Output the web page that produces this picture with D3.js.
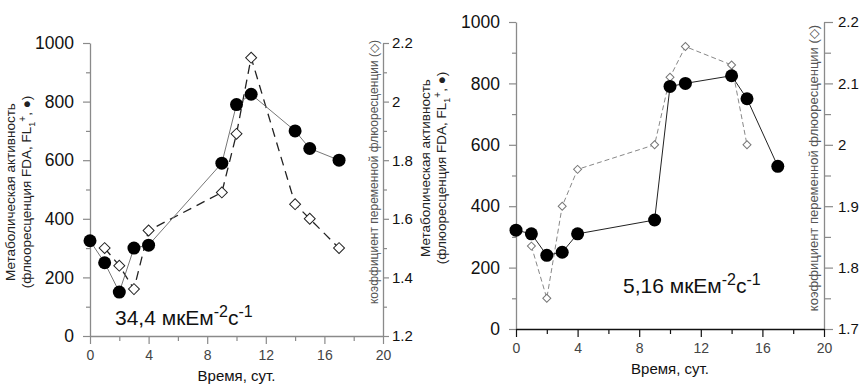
<!DOCTYPE html>
<html>
<head>
<meta charset="utf-8">
<script src="https://cdn.jsdelivr.net/npm/d3@7"></script>
<style>
  body { margin: 0; background: #fff; }
  svg { display: block; font-family: Arial, "Liberation Sans", sans-serif; }
</style>
</head>
<body>
<svg id="chart" width="862" height="385"></svg>
<script>
// ---- data ----
// left panel, 34,4 мкЕм-2с-1
const daysA = [0, 1, 2, 3, 4, 9, 10, 11, 14, 15, 17];
const activityA = [325, 250, 150, 300, 310, 590, 790, 825, 700, 640, 600];
const ratioDaysA = [1, 2, 3, 4, 9, 10, 11, 14, 15, 17];
const ratioA = [1.50, 1.44, 1.36, 1.56, 1.69, 1.89, 2.15, 1.65, 1.60, 1.50];

// right panel, 5,16 мкЕм-2с-1
const daysB = [0, 1, 2, 3, 4, 9, 10, 11, 14, 15, 17];
const activityB = [322, 310, 240, 250, 310, 355, 790, 800, 825, 750, 530];
const ratioDaysB = [1, 2, 3, 4, 9, 10, 11, 14, 15];
const ratioB = [1.835, 1.75, 1.90, 1.96, 2.0, 2.11, 2.16, 2.13, 2.0];

// ticks
const timeTicks = [0, 4, 8, 12, 16, 20];
const timeMinor = [2, 6, 10, 14, 18];
const activityTicks = [0, 200, 400, 600, 800, 1000];
const activityMinor = [100, 300, 500, 700, 900];
const ratioTicksA = [1.2, 1.4, 1.6, 1.8, 2.0, 2.2];
const ratioMinorA = [1.3, 1.5, 1.7, 1.9, 2.1];
const ratioTicksB = [1.7, 1.8, 1.9, 2.0, 2.1, 2.2];
const ratioMinorB = [1.75, 1.85, 1.95, 2.05, 2.15];

const svg = d3.select("svg#chart");
const fmt = d => String(+d.toFixed(2));

function styleAxis(sel, color, fontSize, textColor, family) {
    sel.attr("font-size", null).attr("font-family", null);
    sel.select(".domain").attr("stroke", color).attr("stroke-width", 1.3);
    sel.selectAll(".tick line").attr("stroke", color).attr("stroke-width", 1.2);
    sel.selectAll(".tick text")
       .attr("fill", textColor)
       .style("font-size", fontSize + "px")
       .style("font-family", family || "Arial, 'Liberation Sans', sans-serif");
}

function drawPanel(p) {
    const g = svg.append("g");
    const x = d3.scaleLinear().domain([0, 20]).range([p.left, p.right]);
    const yL = d3.scaleLinear().domain([0, 1000]).range([p.bottom, p.top]);
    const yR = d3.scaleLinear().domain(p.ratioDomain).range([p.bottom, p.top]);

    // minor ticks
    g.append("g").attr("transform", "translate(" + p.left + ",0)")
     .call(d3.axisLeft(yL).tickValues(activityMinor).tickSize(4).tickFormat(""))
     .call(s => { styleAxis(s, "#8a8a8a", 10, "#000"); s.select(".domain").remove(); });
    g.append("g").attr("transform", "translate(" + p.right + ",0)")
     .call(d3.axisRight(yR).tickValues(p.ratioMinor).tickSize(p.rTick - 2).tickFormat(""))
     .call(s => { styleAxis(s, "#8a8a8a", 10, "#000"); s.select(".domain").remove(); });
    g.append("g").attr("transform", "translate(0," + p.bottom + ")")
     .call(d3.axisBottom(x).tickValues(timeMinor).tickSize(5).tickFormat(""))
     .call(s => { styleAxis(s, p.xColor, 10, "#000"); s.select(".domain").remove(); });

    // main axes
    g.append("g").attr("transform", "translate(" + p.left + ",0)")
     .call(d3.axisLeft(yL).tickValues(activityTicks).tickSize(7).tickPadding(9)
           .tickSizeOuter(0).tickFormat(fmt))
     .call(s => styleAxis(s, "#8a8a8a", 17.5, "#111"));
    g.append("g").attr("transform", "translate(" + p.right + ",0)")
     .call(d3.axisRight(yR).tickValues(p.ratioTicks).tickSize(p.rTick).tickPadding(p.rPad)
           .tickSizeOuter(0).tickFormat(fmt))
     .call(s => styleAxis(s, "#8a8a8a", p.rFont, "#111"));
    g.append("g").attr("transform", "translate(0," + p.bottom + ")")
     .call(d3.axisBottom(x).tickValues(timeTicks).tickSize(8).tickPadding(6).tickSizeOuter(0))
     .call(s => styleAxis(s, p.xColor, 14, "#444",
                          "'Liberation Sans Narrow', 'Arial Narrow', Arial, sans-serif"));

    // series
    const actData = d3.zip(p.days, p.activity);
    const ratData = d3.zip(p.ratioDays, p.ratio);

    g.append("path").datum(ratData)
     .attr("d", d3.line().x(d => x(d[0])).y(d => yR(d[1])))
     .attr("fill", "none")
     .attr("stroke", p.dashColor)
     .attr("stroke-width", p.dashWidth)
     .attr("stroke-dasharray", p.dash);

    g.append("path").datum(actData)
     .attr("d", d3.line().x(d => x(d[0])).y(d => yL(d[1])))
     .attr("fill", "none")
     .attr("stroke", p.solidColor)
     .attr("stroke-width", 1);

    const diamond = d3.symbol(d3.symbolSquare, p.diamondSize);
    g.selectAll("path.diamond").data(ratData)
     .join("path")
     .attr("class", "diamond")
     .attr("d", diamond)
     .attr("transform", d => "translate(" + x(d[0]) + "," + yR(d[1]) + ") rotate(45)")
     .attr("fill", "#fff")
     .attr("stroke", p.diamondStroke)
     .attr("stroke-width", 1);

    g.selectAll("circle").data(actData)
     .join("circle")
     .attr("cx", d => x(d[0]))
     .attr("cy", d => yL(d[1]))
     .attr("r", 6.5)
     .attr("fill", "#000");

    // left axis title (two lines)
    const lt = g.append("text")
        .attr("transform", "translate(" + p.titleX + "," + p.titleY + ") rotate(-90)")
        .attr("text-anchor", "middle")
        .attr("fill", "#222")
        .style("font-size", "13.5px");
    lt.append("tspan").attr("x", 0).attr("y", 0).text("Метаболическая активность");
    lt.append("tspan").attr("x", 0).attr("y", 16).text("(флюоресценция FDA, FL");
    lt.append("tspan").attr("dy", 4).style("font-size", "9px").text("1");
    lt.append("tspan").attr("dy", -9).style("font-size", "10px").text("+");
    lt.append("tspan").attr("dy", 5).text(", ●)");

    // right axis title, inside the plot next to the right axis
    g.append("text")
     .attr("transform", "translate(" + p.rTitleX + "," + p.rTitleY + ") rotate(-90)")
     .attr("text-anchor", "middle")
     .attr("fill", "#555")
     .style("font-size", p.rTitleFont + "px")
     .text("коэффициент переменной флюоресценции (◇)");

    // x axis title
    g.append("text")
     .attr("x", (p.left + p.right) / 2)
     .attr("y", p.bottom + 45)
     .attr("text-anchor", "middle")
     .attr("fill", "#111")
     .style("font-size", "15px")
     .text("Время, сут.");

    // light level annotation
    const an = g.append("text")
        .attr("x", p.noteX).attr("y", p.noteY)
        .attr("fill", "#111")
        .style("font-size", "21px");
    an.append("tspan").text(p.note + " мкЕм");
    an.append("tspan").attr("dy", -8).style("font-size", "16px").text("-2");
    an.append("tspan").attr("dy", 8).text("с");
    an.append("tspan").attr("dy", -8).style("font-size", "16px").text("-1");
}

drawPanel({
    left: 90, right: 383, top: 43, bottom: 336,
    ratioDomain: [1.2, 2.2], ratioTicks: ratioTicksA, ratioMinor: ratioMinorA,
    rTick: 6, rPad: 3, rFont: 15,
    xColor: "#8a8a8a",
    days: daysA, activity: activityA, ratioDays: ratioDaysA, ratio: ratioA,
    solidColor: "#777", dashColor: "#222", dashWidth: 1.3, dash: "9,6",
    diamondSize: 60, diamondStroke: "#222",
    titleX: 15, titleY: 192,
    rTitleX: 378, rTitleY: 172, rTitleFont: 12,
    noteX: 115, noteY: 325, note: "34,4"
});

drawPanel({
    left: 516, right: 824, top: 22, bottom: 329,
    ratioDomain: [1.7, 2.2], ratioTicks: ratioTicksB, ratioMinor: ratioMinorB,
    rTick: 9, rPad: 5, rFont: 15,
    xColor: "#111",
    days: daysB, activity: activityB, ratioDays: ratioDaysB, ratio: ratioB,
    solidColor: "#222", dashColor: "#888", dashWidth: 1, dash: "5,3",
    diamondSize: 32, diamondStroke: "#777",
    titleX: 430, titleY: 168,
    rTitleX: 818, rTitleY: 168, rTitleFont: 13,
    noteX: 623, noteY: 293, note: "5,16"
});
</script>
</body>
</html>
